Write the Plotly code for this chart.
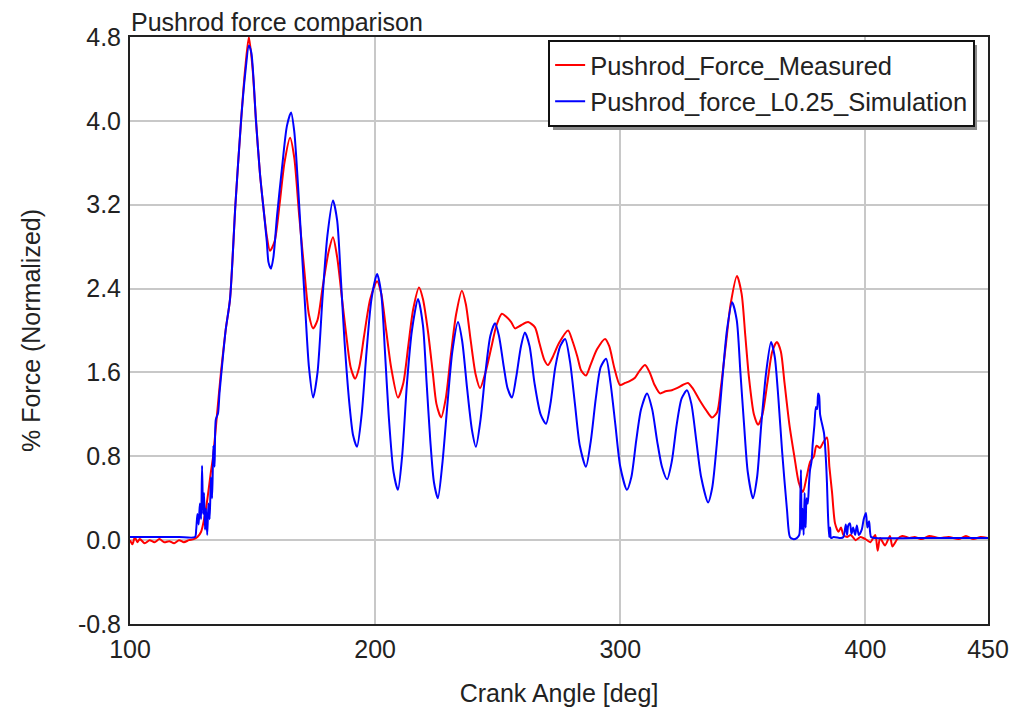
import plotly.graph_objects as go

# ---- Data ----
meas_angle = [100, 101, 102, 103, 104, 106, 108, 110, 112, 114, 116, 118, 120, 122, 124, 126,
              127.5, 129, 131, 133, 133.9, 135.5, 137.1, 139, 140.8, 143, 145.3, 147, 148.5,
              150, 151.4, 153, 154.3, 155.8, 157.1, 159, 161, 163, 165.3, 167, 169, 171, 173,
              174.7, 176.5, 178.5, 181, 182.8, 184.5, 186.5, 188.5, 190, 191.8, 193.5, 195.5,
              198, 200.8, 202.5, 204.5, 206.5, 209.3, 211.5, 213.5, 215.5, 217.9, 219.5, 221.5,
              223.5, 225, 226.9, 228.8, 230.8, 233, 235.4, 237, 239, 241, 242.8, 245, 247.5,
              249.5, 251.7, 253.5, 255.5, 257.1, 259.5, 262.4, 265.2, 267, 269, 270.5, 272.5,
              275, 278.7, 280.5, 282.5, 284, 286, 288, 290.5, 293.8, 295.5, 297.5, 299.9, 302,
              304, 306, 308, 310.1, 312, 314, 316.2, 318.5, 321, 323.1, 325.5, 327.6, 329.5,
              332.5, 335, 337.4, 339.5, 341, 343, 345, 347.6, 349.5, 351, 352.5, 354.5, 356.2,
              358, 360, 362, 363.9, 365.5, 367, 369, 371, 372.8, 374.5, 376, 377.5, 379, 380,
              381.5, 382.5, 384.3, 385.3, 386.4, 387.6, 389, 390, 391, 392.5, 394, 396, 398,
              400, 402, 404, 405, 406, 408, 410, 411, 413, 415, 418, 420, 423, 426, 430, 434,
              438, 441, 444, 447, 450]
meas_force = [0.0, -0.04, 0.03, -0.02, 0.01, -0.03, 0.0, -0.02, 0.01, -0.02, -0.01, -0.03, 0.0,
              -0.02, 0.0, 0.01,
              0.03, 0.08, 0.3, 0.65, 0.8, 1.2, 1.6, 2.0, 2.3, 3.2, 4.0, 4.5, 4.8,
              4.5, 4.0, 3.5, 3.2, 2.9, 2.76, 2.85, 3.2, 3.6, 3.84, 3.65, 3.1, 2.6, 2.15,
              2.02, 2.1, 2.4, 2.75, 2.89, 2.7, 2.3, 1.9, 1.65, 1.54, 1.65, 1.95,
              2.3, 2.47, 2.35, 2.0, 1.65, 1.36, 1.5, 1.85, 2.2, 2.41, 2.3, 2.0,
              1.6, 1.3, 1.17, 1.35, 1.75, 2.15, 2.38, 2.25, 1.9, 1.58, 1.45, 1.6, 1.85,
              2.05, 2.16, 2.13, 2.08, 2.02, 2.05, 2.08, 2.03, 1.88, 1.72, 1.67, 1.75,
              1.88, 2.0, 1.9, 1.75, 1.62, 1.57, 1.68, 1.82, 1.92, 1.85, 1.65, 1.48, 1.5,
              1.52, 1.55, 1.62, 1.67, 1.6, 1.48, 1.40, 1.42, 1.43, 1.45, 1.48, 1.5, 1.45,
              1.33, 1.24, 1.17, 1.22, 1.45, 1.85, 2.25, 2.52, 2.35, 1.95, 1.55, 1.2, 1.10,
              1.2, 1.5, 1.8, 1.89, 1.8, 1.5, 1.1, 0.8, 0.55, 0.46, 0.6, 0.75, 0.8, 0.9,
              0.88, 0.92, 0.98, 0.7, 0.45, 0.16, 0.08, 0.12, 0.05, 0.03, 0.05, 0.0, 0.03,
              0.01, -0.02, 0.05, -0.1, 0.02, -0.05, 0.04, -0.06, 0.01, 0.04, 0.02, 0.03, 0.01,
              0.04, 0.02, 0.03, 0.01, 0.04, 0.01, 0.03, 0.02]

sim_angle = [100, 110, 120, 126.5, 127, 127.5, 128, 128.5, 129, 129.4, 129.8, 130.2, 130.6, 131,
             131.5, 132, 132.5, 133, 133.5, 134, 134.5, 135, 135.9, 136.5, 137.5, 139, 140.8,
             143, 145.3, 147, 148.5, 149.5, 151.4, 153, 154.3, 155.8, 156.5, 157.5, 158.5, 160,
             162, 164, 165.7, 167, 168.5, 170, 171.5, 173, 174.7, 176.5, 178.5, 180.5, 182.8,
             184.5, 186, 187.5, 189.5, 191, 192.6, 194.5, 196.5, 198.5, 200.8, 202.5, 204,
             205.5, 207.5, 209.3, 211, 213, 215, 217.5, 219.5, 221, 222.5, 224, 225.6, 227.5,
             229.5, 231.5, 233.8, 235.5, 237.5, 239.5, 241.1, 243, 245, 247, 248.9, 250.5,
             252.5, 254, 255.8, 257.5, 259.5, 261.1, 263, 265, 267.5, 269.7, 271.5, 273.5,
             275.5, 277.5, 279.5, 281.5, 283.5, 286.0, 288, 290, 292, 294.2, 296, 298, 300,
             302.7, 304.5, 306.5, 308.5, 310.9, 313, 315, 317, 319.1, 321, 323, 325, 327.2,
             329, 331, 333, 335.8, 337.5, 339.5, 341.5, 343.5, 345.6, 347.5, 349, 350.5, 352,
             354.1, 355.8, 357.5, 359.5, 361.5, 363, 364.5, 366, 368, 369.2, 370.5, 372, 373,
             373.4, 373.7, 374, 374.4, 374.8, 375.2, 375.6, 376, 376.5, 377, 377.4, 378, 378.5,
             379.2, 379.8, 380.3, 380.7, 381.1, 381.5, 382, 383.1, 383.8, 384.3, 384.7, 385.2,
             385.6, 386, 387, 390, 391, 392, 392.5, 393, 393.7, 394.3, 395, 395.8, 396.5,
             397.3, 398.5, 399.3, 400.2, 400.8, 401.5, 402.3, 404, 420, 435, 450]
sim_force = [0.03, 0.03, 0.03, 0.03, 0.1, 0.25, 0.15, 0.35, 0.2, 0.71, 0.25, 0.45, 0.1, 0.3,
             0.05, 0.35, 0.2, 0.6, 0.4, 0.9, 0.7, 1.15, 1.21, 1.4, 1.65, 2.0, 2.3,
             3.2, 4.0, 4.45, 4.72, 4.65, 4.0, 3.5, 3.2, 2.85, 2.65, 2.59, 2.7, 3.1,
             3.55, 3.95, 4.08, 3.9, 3.4, 2.8, 2.2, 1.65, 1.36, 1.6, 2.3, 2.9, 3.24,
             3.05, 2.5, 1.9, 1.3, 1.0, 0.89, 1.2, 1.8, 2.3, 2.54, 2.35, 1.8,
             1.2, 0.65, 0.48, 0.8, 1.5, 2.0, 2.30, 2.05, 1.5, 0.95, 0.55, 0.40, 0.75,
             1.3, 1.8, 2.08, 1.9, 1.45, 1.05, 0.89, 1.15, 1.6, 1.95, 2.07, 1.95,
             1.65, 1.45, 1.36, 1.55, 1.85, 1.98, 1.85, 1.5, 1.2, 1.11, 1.3, 1.65,
             1.85, 1.92, 1.7, 1.3, 0.9, 0.70, 0.95, 1.35, 1.65, 1.73, 1.5, 1.1, 0.7,
             0.48, 0.6, 0.95, 1.25, 1.40, 1.25, 0.95, 0.7, 0.58, 0.75, 1.1, 1.35, 1.43,
             1.3, 0.95, 0.6, 0.36, 0.5, 0.95, 1.5, 2.0, 2.27, 2.1, 1.6, 1.1, 0.65,
             0.40, 0.6, 1.1, 1.6, 1.89, 1.75, 1.35, 0.85, 0.29, 0.03, 0.01, 0.02, 0.05,
             0.35, 0.67, 0.1, 0.3, 0.05, 0.45, 0.12, 0.4, 0.35, 0.55, 0.67, 0.75, 0.92,
             1.1, 1.27, 1.25, 1.40, 1.38, 1.2, 1.14, 1.02, 0.8, 0.55, 0.26, 0.03,
             0.12, 0.02, 0.03, 0.02, 0.03, 0.15, 0.05, 0.14, 0.16, 0.06, 0.12, 0.05, 0.14,
             0.05, 0.1, 0.2, 0.26, 0.12, 0.18, 0.03, 0.02, 0.02, 0.02, 0.02]

x_ticks = [100, 200, 300, 400, 450]
y_ticks = [-0.8, 0.0, 0.8, 1.6, 2.4, 3.2, 4.0, 4.8]
y_tick_text = ["-0.8", "0.0", "0.8", "1.6", "2.4", "3.2", "4.0", "4.8"]

FONT = "Liberation Sans, Arial, sans-serif"

fig = go.Figure()
fig.add_trace(go.Scatter(x=meas_angle, y=meas_force, mode="lines",
                         name="Pushrod_Force_Measured",
                         line=dict(color="#ff0000", width=2, shape="spline", smoothing=0.7)))
fig.add_trace(go.Scatter(x=sim_angle, y=sim_force, mode="lines",
                         name="Pushrod_force_L0.25_Simulation",
                         line=dict(color="#0000ff", width=2, shape="spline", smoothing=0.7)))

fig.update_layout(
    width=1017, height=709,
    margin=dict(l=130, r=29, t=37, b=85, autoexpand=False),
    paper_bgcolor="white", plot_bgcolor="white",
    font=dict(family=FONT, size=25, color="#222"),
    showlegend=True,
    legend=dict(x=0.985, y=0.995, xanchor="right", yanchor="top",
                bgcolor="white", bordercolor="#111", borderwidth=2,
                font=dict(family=FONT, size=25.5, color="#222"),
                tracegroupgap=0, itemwidth=30),
    xaxis=dict(range=[100, 450], tickvals=x_ticks, ticktext=[str(v) for v in x_ticks],
               showgrid=True, gridcolor="#c8c8c8", gridwidth=2,
               showline=True, linecolor="#222", linewidth=2, mirror=True,
               ticks="", zeroline=False, ticklabelstandoff=2, automargin=False,
               title=dict(text="Crank Angle [deg]", standoff=22,
                          font=dict(family=FONT, size=25, color="#222"))),
    yaxis=dict(range=[-0.8, 4.8], tickvals=y_ticks, ticktext=y_tick_text,
               showgrid=True, gridcolor="#c8c8c8", gridwidth=2,
               showline=True, linecolor="#222", linewidth=2, mirror=True,
               ticks="", zeroline=False, ticklabelstandoff=2, automargin=False,
               title=dict(text="% Force (Normalized)", standoff=30,
                          font=dict(family=FONT, size=25, color="#222"))),
    shapes=[dict(type="rect", xref="paper", yref="paper",
                 x0=0.4930, x1=0.9872, y0=0.8416, y1=0.9864,
                 fillcolor="#8a8a8a", line=dict(width=0), layer="above")],
    annotations=[dict(text="Pushrod force comparison", xref="paper", yref="paper",
                      x=0.0, y=1.0, xanchor="left", yanchor="bottom", showarrow=False,
                      font=dict(family=FONT, size=25, color="#222"), borderpad=0)],
)

fig.write_html("out.html")
